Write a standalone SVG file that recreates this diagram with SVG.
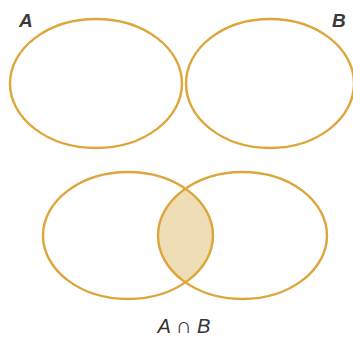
<svg xmlns="http://www.w3.org/2000/svg" width="353" height="337" viewBox="0 0 353 337">
<style>
.set{fill:none;stroke:#DDA63A;stroke-width:2.4}
.lab{font-family:"Liberation Sans","DejaVu Sans",sans-serif;font-style:italic;font-weight:bold;font-size:19px;fill:#3a3a3a}
.lab2{font-family:"Liberation Sans","DejaVu Sans",sans-serif;font-style:italic;font-size:20px;fill:#333}
</style>
<defs>
<clipPath id="cl"><ellipse cx="128" cy="235.5" rx="85" ry="63.5"/></clipPath>
</defs>
<rect width="353" height="337" fill="#fff"/>
<g id="setA"><ellipse class="set" cx="96" cy="83.5" rx="86" ry="64.5"/><text class="lab" x="19" y="27">A</text></g>
<g id="setB"><ellipse class="set" cx="270" cy="83.5" rx="84" ry="64.5"/><text class="lab" x="332" y="27">B</text></g>
<g id="intersection">
<ellipse cx="242.5" cy="235.5" rx="84.5" ry="63.5" fill="#EEDDB5" clip-path="url(#cl)"/>
<ellipse class="set" cx="128" cy="235.5" rx="85" ry="63.5"/>
<ellipse class="set" cx="242.5" cy="235.5" rx="84.5" ry="63.5"/>
<text class="lab2" x="184" y="333" text-anchor="middle">A <tspan font-style="normal" font-size="22">∩</tspan> B</text>
</g>
</svg>
